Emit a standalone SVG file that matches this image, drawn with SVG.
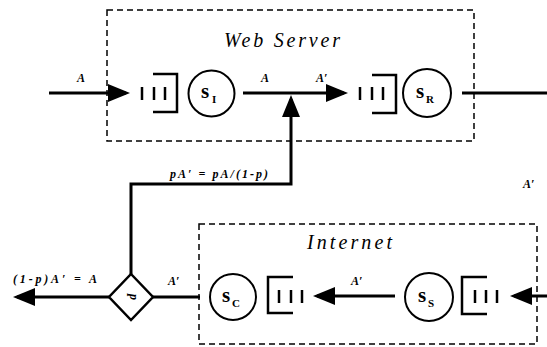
<svg xmlns="http://www.w3.org/2000/svg" width="547" height="347" viewBox="0 0 547 347">
<style>
.box{fill:none;stroke:#000;stroke-width:1.5;stroke-dasharray:6 4}
.srv{fill:#fff;stroke:#000;stroke-width:2}
.q{fill:none;stroke:#000;stroke-width:2.5}
.bar{stroke:#000;stroke-width:2.5}
.con{fill:none;stroke:#000;stroke-width:3}
.lbl{font-family:"Liberation Serif",serif;font-style:italic;font-weight:bold;font-size:12px;fill:#000}
.title{font-family:"Liberation Serif",serif;font-style:italic;font-size:20px;fill:#000}
.s{font-family:"Liberation Serif",serif;font-weight:bold;font-size:21px;fill:#000}
.sub{font-family:"Liberation Serif",serif;font-weight:bold;font-size:11px;fill:#000}
</style>
<defs>
<marker id="ah" markerUnits="userSpaceOnUse" markerWidth="24" markerHeight="20" viewBox="0 -10 24 20" refX="18" refY="0" orient="auto">
<path d="M0,-9 L22,0 L0,9 z" fill="#000"/>
</marker>
</defs>
<rect width="547" height="347" fill="#fff"/>
<g id="webserver">
<rect class="box" x="107" y="10" width="367" height="131"/>
<text class="title" x="224" y="47" textLength="116" lengthAdjust="spacing">Web Server</text>
</g>
<g id="internet">
<rect class="box" x="199" y="224" width="338" height="120"/>
<text class="title" x="307" y="249" textLength="85" lengthAdjust="spacing">Internet</text>
</g>
<g id="queue-I">
<path class="q" d="M153,74 H177 V112 H153"/>
<line class="bar" x1="142" y1="87" x2="142" y2="100"/>
<line class="bar" x1="154" y1="87" x2="154" y2="100"/>
<line class="bar" x1="165" y1="87" x2="165" y2="100"/>
</g>
<g id="server-I">
<circle class="srv" cx="211.5" cy="93.5" r="23"/>
<text class="s" x="201" y="98">s</text><text class="sub" x="212" y="103">I</text>
</g>
<g id="queue-R">
<path class="q" d="M372,75 H396 V113 H372"/>
<line class="bar" x1="360" y1="87" x2="360" y2="100"/>
<line class="bar" x1="372" y1="87" x2="372" y2="100"/>
<line class="bar" x1="383" y1="87" x2="383" y2="100"/>
</g>
<g id="server-R">
<circle class="srv" cx="427" cy="93" r="24"/>
<text class="s" x="416" y="98">s</text><text class="sub" x="426" y="103">R</text>
</g>
<g id="server-S">
<circle class="srv" cx="429" cy="297" r="24"/>
<text class="s" x="418" y="302">s</text><text class="sub" x="428" y="307">S</text>
</g>
<g id="queue-S">
<path class="q" d="M487,277 H462 V314 H487"/>
<line class="bar" x1="475" y1="290" x2="475" y2="303"/>
<line class="bar" x1="486" y1="290" x2="486" y2="303"/>
<line class="bar" x1="497" y1="290" x2="497" y2="303"/>
</g>
<g id="queue-C">
<path class="q" d="M293,277 H268 V313 H293"/>
<line class="bar" x1="279" y1="290" x2="279" y2="303"/>
<line class="bar" x1="291" y1="290" x2="291" y2="303"/>
<line class="bar" x1="302" y1="290" x2="302" y2="303"/>
</g>
<g id="server-C">
<circle class="srv" cx="233" cy="297" r="23"/>
<text class="s" x="222" y="302">s</text><text class="sub" x="232" y="307">C</text>
</g>
<g id="split">
<polygon points="131,274 153,297 131,320 109,297" fill="#fff" stroke="#000" stroke-width="2.5"/>
<text class="lbl" x="0" y="0" font-size="9px" text-anchor="middle" transform="translate(130,297) rotate(90)">p</text>
</g>
<g id="connectors">
<line class="con" x1="49" y1="93" x2="126" y2="93" marker-end="url(#ah)"/>
<line class="con" x1="243" y1="93" x2="344" y2="93" marker-end="url(#ah)"/>
<path class="con" d="M131,274 V184 H291 V99" marker-end="url(#ah)"/>
<line class="con" x1="462" y1="93" x2="547" y2="93"/>
<line class="con" x1="547" y1="296" x2="514" y2="296" marker-end="url(#ah)"/>
<line class="con" x1="395" y1="296" x2="317" y2="296" marker-end="url(#ah)"/>
<line class="con" x1="200" y1="297" x2="153" y2="297"/>
<line class="con" x1="109" y1="297" x2="17" y2="297" marker-end="url(#ah)"/>
</g>
<g id="labels">
<text class="lbl" x="77" y="82">A</text>
<text class="lbl" x="261" y="82">A</text>
<text class="lbl" x="316" y="82">A′</text>
<text class="lbl" x="170" y="178" textLength="98" lengthAdjust="spacing">pA′ = pA/(1-p)</text>
<text class="lbl" x="523" y="188">A′</text>
<text class="lbl" x="351" y="285">A′</text>
<text class="lbl" x="168" y="285">A′</text>
<text class="lbl" x="13" y="283" textLength="84" lengthAdjust="spacing">(1-p)A′ = A</text>
</g>
</svg>
